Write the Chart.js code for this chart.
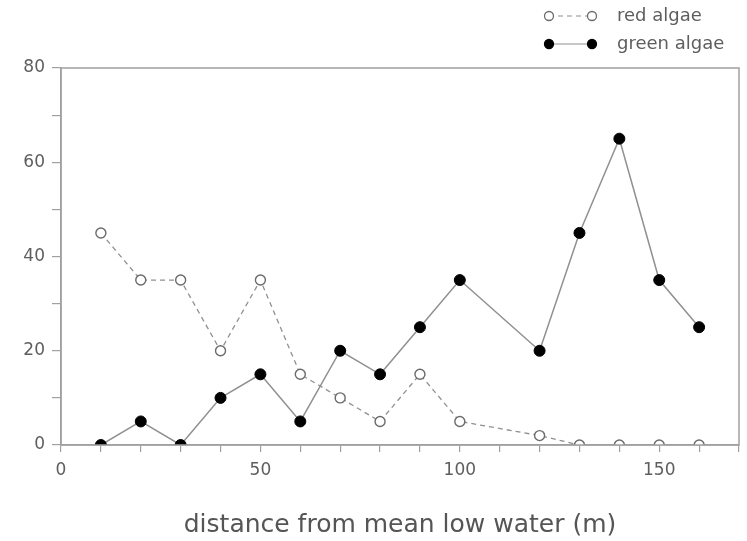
<!DOCTYPE html>
<html>
<head>
<meta charset="utf-8">
<script src="https://cdn.jsdelivr.net/npm/chart.js@4"></script>
<style>
  html, body { margin: 0; padding: 0; background: #fff; }
  #wrap { width: 747px; height: 541px; }
</style>
</head>
<body>
<div id="wrap"><canvas id="algae-chart"></canvas></div>
<script>
// distance from mean low water (m)
const distances = [10, 20, 30, 40, 50, 60, 70, 80, 90, 100, 120, 130, 140, 150, 160];
const redAlgae = [45, 35, 35, 20, 35, 15, 10, 5, 15, 5, 2, 0, 0, 0, 0];
const greenAlgae = [0, 5, 0, 10, 15, 5, 20, 15, 25, 35, 20, 45, 65, 35, 25];
const xLabels = [0, 50, 100, 150];
const yLabels = [0, 20, 40, 60, 80];

const toPoints = (vals) => vals.map((v, i) => ({ x: distances[i], y: v }));

const axisColor = "#a0a0a0";
const textColor = "#5e5e5e";
const fontFamily = "'DejaVu Sans', sans-serif";

// box around the plot + legend at top right
const framePlugin = {
  id: "frame",
  afterDraw(chart) {
    const { ctx, chartArea } = chart;
    ctx.save();
    ctx.strokeStyle = axisColor;
    ctx.lineWidth = 1.5;
    ctx.strokeRect(chartArea.left, chartArea.top, chartArea.right - chartArea.left, chartArea.bottom - chartArea.top);

    const items = chart.data.datasets.map((ds, i) => ({ ds, y: 16 + i * 28 }));
    items.forEach(({ ds, y }) => {
      ctx.strokeStyle = ds.borderColor;
      ctx.lineWidth = 1.2;
      ctx.setLineDash(ds.borderDash || []);
      ctx.beginPath();
      ctx.moveTo(549, y);
      ctx.lineTo(592, y);
      ctx.stroke();
      ctx.setLineDash([]);
      [549, 592].forEach((px) => {
        ctx.beginPath();
        ctx.arc(px, y, 4.5, 0, Math.PI * 2);
        ctx.fillStyle = ds.pointBackgroundColor;
        ctx.fill();
        ctx.lineWidth = 1.3;
        ctx.strokeStyle = ds.pointBorderColor;
        ctx.stroke();
      });
      ctx.fillStyle = textColor;
      ctx.font = "18px " + fontFamily;
      ctx.textBaseline = "middle";
      ctx.fillText(ds.label, 617, y);
    });
    ctx.restore();
  },
};

const ctx = document.getElementById("algae-chart").getContext("2d");
const algaeChart = new Chart(ctx, {
  type: "line",
  data: {
    datasets: [
      {
        label: "red algae",
        data: toPoints(redAlgae),
        borderColor: "#909090",
        borderWidth: 1.3,
        borderDash: [5, 4],
        pointBackgroundColor: "#ffffff",
        pointBorderColor: "#6a6a6a",
        pointBorderWidth: 1.4,
        pointRadius: 5,
        tension: 0,
      },
      {
        label: "green algae",
        data: toPoints(greenAlgae),
        borderColor: "#909090",
        borderWidth: 1.5,
        pointBackgroundColor: "#000000",
        pointBorderColor: "#000000",
        pointBorderWidth: 1,
        pointRadius: 5.5,
        tension: 0,
      },
    ],
  },
  options: {
    responsive: true,
    maintainAspectRatio: false,
    animation: false,
    layout: { padding: { top: 68, right: 7, left: 0, bottom: 0 } },
    plugins: {
      legend: { display: false },
      tooltip: { enabled: false },
    },
    scales: {
      x: {
        type: "linear",
        min: 0,
        max: 170,
        border: { display: true, color: axisColor, width: 1.5 },
        grid: { drawOnChartArea: false, drawTicks: true, tickLength: 7, color: axisColor, lineWidth: 1.2 },
        ticks: {
          stepSize: 10,
          autoSkip: false,
          maxRotation: 0,
          color: textColor,
          font: { size: 17, family: fontFamily },
          padding: 8,
          callback: (v) => (xLabels.includes(v) ? String(v) : ""),
        },
        title: {
          display: true,
          text: "distance from mean low water (m)",
          color: "#555",
          font: { size: 25, family: fontFamily },
          padding: { top: 0, bottom: 1 },
        },
        afterFit: (scale) => { scale.height = 96; },
      },
      y: {
        min: 0,
        max: 80,
        border: { display: true, color: axisColor, width: 1.5 },
        grid: { drawOnChartArea: false, drawTicks: true, tickLength: 9, color: axisColor, lineWidth: 1.2 },
        ticks: {
          stepSize: 10,
          autoSkip: false,
          color: textColor,
          font: { size: 17, family: fontFamily },
          padding: 7,
          callback: (v) => (yLabels.includes(v) ? String(v) : ""),
        },
        afterFit: (scale) => { scale.width = 61; },
      },
    },
  },
  plugins: [framePlugin],
});
</script>
</body>
</html>
